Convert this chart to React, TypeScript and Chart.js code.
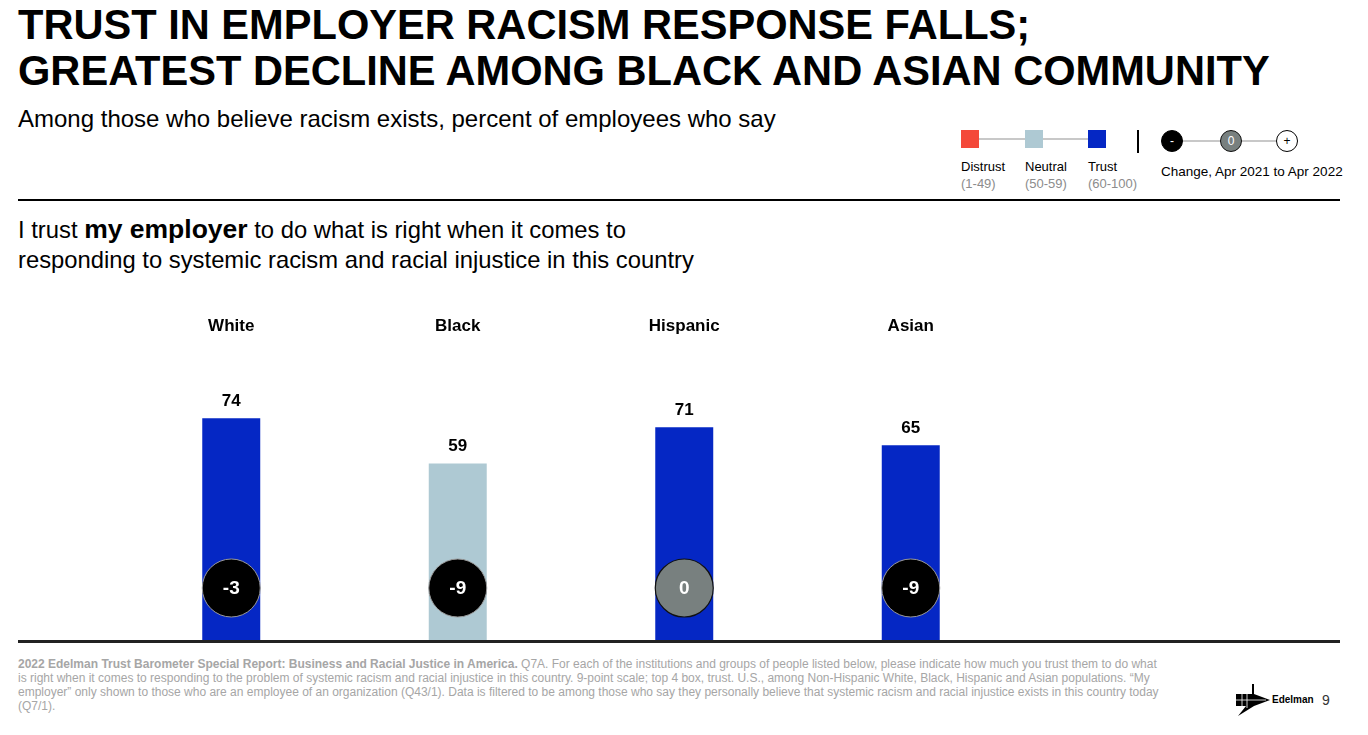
import React, { useEffect, useRef } from "react";
import { Chart, registerables } from "chart.js";

Chart.register(...registerables);

const categories = ["White", "Black", "Hispanic", "Asian"];
const trustValues = [74, 59, 71, 65];
const changeValues = [-3, -9, 0, -9];

const TITLE_LINES = [
  "TRUST IN EMPLOYER RACISM RESPONSE FALLS;",
  "GREATEST DECLINE AMONG BLACK AND ASIAN COMMUNITY",
];
const FOOT_LINES = [
  ["2022 Edelman Trust Barometer Special Report: Business and Racial Justice in America.", " Q7A. For each of the institutions and groups of people listed below, please indicate how much you trust them to do what"],
  ["", "is right when it comes to responding to the problem of systemic racism and racial injustice in this country. 9-point scale; top 4 box, trust. U.S., among Non-Hispanic White, Black, Hispanic and Asian populations. \u201cMy"],
  ["", "employer\u201d only shown to those who are an employee of an organization (Q43/1). Data is filtered to be among those who say they personally believe that systemic racism and racial injustice exists in this country today"],
  ["", "(Q7/1)."],
];

const RED = "#F4493A";
const NEUTRAL = "#AEC9D3";
const BLUE = "#0527C4";
const ZERO_GRAY = "#78807F";
const FONT = "'Liberation Sans', Arial, sans-serif";

function colorFor(v: number) {
  if (v < 50) return RED;
  if (v < 60) return NEUTRAL;
  return BLUE;
}

const overlayPlugin = {
  id: "overlay",
  afterDatasetsDraw(chart: any) {
    const ctx = chart.ctx;
    const meta = chart.getDatasetMeta(0);
    const area = chart.chartArea;
    ctx.save();
    meta.data.forEach((bar: any, i: number) => {
      const x = bar.x;
      ctx.fillStyle = "#000";
      ctx.font = `bold 17px ${FONT}`;
      ctx.textAlign = "center";
      ctx.textBaseline = "middle";
      ctx.fillText(categories[i], x, area.top - 14);
      ctx.fillText(String(trustValues[i]), x, bar.y - 17);
      const cy = area.bottom - 53;
      const ch = changeValues[i];
      ctx.beginPath();
      ctx.arc(x, cy, 29, 0, Math.PI * 2);
      if (ch === 0) {
        ctx.fillStyle = ZERO_GRAY;
        ctx.fill();
        ctx.lineWidth = 1.2;
        ctx.strokeStyle = "#111";
        ctx.stroke();
      } else {
        ctx.fillStyle = ch < 0 ? "#000" : "#fff";
        ctx.fill();
        ctx.lineWidth = 1;
        ctx.strokeStyle = "#999";
        ctx.stroke();
      }
      ctx.fillStyle = ch > 0 ? "#000" : "#fff";
      ctx.font = `bold 19px ${FONT}`;
      ctx.fillText(ch > 0 ? `+${ch}` : String(ch), x, cy + 1);
    });
    ctx.restore();
  },
};

function BarChart() {
  const ref = useRef<HTMLCanvasElement | null>(null);
  useEffect(() => {
    if (!ref.current) return;
    const chart = new Chart(ref.current, {
      type: "bar",
      data: {
        labels: categories,
        datasets: [
          {
            data: trustValues,
            backgroundColor: trustValues.map(colorFor),
            borderWidth: 0,
            barPercentage: 0.256,
            categoryPercentage: 1,
          },
        ],
      },
      options: {
        animation: false,
        responsive: false,
        maintainAspectRatio: false,
        devicePixelRatio: 1,
        layout: { padding: { left: 118, right: 344, top: 50, bottom: 9 } },
        plugins: { legend: { display: false }, tooltip: { enabled: false } },
        scales: {
          x: { display: false },
          y: { display: false, min: 0, max: 100 },
        },
      },
      plugins: [overlayPlugin],
    });
    return () => chart.destroy();
  }, []);
  return (
    <canvas
      ref={ref}
      width={1368}
      height={360}
      style={{ position: "absolute", left: 0, top: 290, width: 1368, height: 360 }}
    />
  );
}

function LegendCircle({ left, fill, border, text, color }: any) {
  return (
    <div
      style={{
        position: "absolute",
        left: left - 11,
        top: 130,
        width: 20,
        height: 20,
        borderRadius: "50%",
        background: fill,
        border: `1px solid ${border}`,
        color,
        fontSize: 12,
        lineHeight: "20px",
        textAlign: "center",
        fontWeight: "normal",
      }}
    >
      {text}
    </div>
  );
}

export default function App() {
  const abs = (s: any) => ({ position: "absolute", ...s });
  return (
    <div style={{ position: "absolute", left: 0, top: 0, width: 1368, height: 735, background: "#fff", fontFamily: FONT, overflow: "hidden" }}>
      {TITLE_LINES.map((t, i) => (
        <div key={i} style={abs({ left: 18, top: 2 + i * 46, fontSize: 41.6, lineHeight: "46px", fontWeight: "bold", whiteSpace: "nowrap", color: "#000" })}>
          {t}
        </div>
      ))}
      <div style={abs({ left: 18, top: 105, fontSize: 24, lineHeight: "28px", whiteSpace: "nowrap" })}>
        Among those who believe racism exists, percent of employees who say
      </div>

      {/* Legend */}
      <div style={abs({ left: 970, top: 138, width: 127, height: 2, background: "#c8c8c8" })} />
      <div style={abs({ left: 961, top: 130, width: 18, height: 18, background: RED })} />
      <div style={abs({ left: 1025, top: 130, width: 18, height: 18, background: NEUTRAL })} />
      <div style={abs({ left: 1088, top: 130, width: 18, height: 18, background: BLUE })} />
      {[
        ["Distrust", "(1-49)", 961],
        ["Neutral", "(50-59)", 1025],
        ["Trust", "(60-100)", 1088],
      ].map(([a, b, l]: any) => (
        <div key={a} style={abs({ left: l, top: 158, fontSize: 13, lineHeight: "17px", whiteSpace: "nowrap" })}>
          <div style={{ color: "#000" }}>{a}</div>
          <div style={{ color: "#8c8c8c" }}>{b}</div>
        </div>
      ))}
      <div style={abs({ left: 1137, top: 130, width: 1.5, height: 23, background: "#000" })} />
      <div style={abs({ left: 1172, top: 140, width: 115, height: 1.5, background: "#c8c8c8" })} />
      <LegendCircle left={1172} fill="#000" border="#000" text="-" color="#fff" />
      <LegendCircle left={1231} fill={ZERO_GRAY} border="#111" text="0" color="#fff" />
      <LegendCircle left={1287} fill="#fff" border="#000" text="+" color="#000" />
      <div style={abs({ left: 1161, top: 163, fontSize: 13.5, lineHeight: "17px", whiteSpace: "nowrap" })}>
        Change, Apr 2021 to Apr 2022
      </div>

      <div style={abs({ left: 18, top: 199, width: 1322, height: 2, background: "#000" })} />

      <div style={abs({ left: 18, top: 214, fontSize: 23.8, lineHeight: "30px", whiteSpace: "nowrap" })}>
        <div>
          I trust <b style={{ fontSize: 26.5 }}>my employer</b> to do what is right when it comes to
        </div>
        <div>responding to systemic racism and racial injustice in this country</div>
      </div>

      <BarChart />

      <div style={abs({ left: 18, top: 640, width: 1322, height: 3, background: "#222" })} />

      <div style={abs({ left: 18, top: 657, fontSize: 12, lineHeight: "14px", color: "#a6a6a6", whiteSpace: "nowrap" })}>
        {FOOT_LINES.map(([b, r], i) => (
          <div key={i}>
            {b ? <b>{b}</b> : null}
            {r}
          </div>
        ))}
      </div>

      {/* Logo */}
      <svg style={abs({ left: 1236, top: 684 })} width={36} height={32} viewBox="0 0 36 32">
        <polygon points="16,0 18,0 18,10 34,16 18,22 18,22 2,32 10,22 0,22 0,10 16,10" fill="#000" />
        <line x1="6" y1="10" x2="6" y2="26" stroke="#fff" strokeWidth="0.8" />
        <line x1="11" y1="10" x2="11" y2="24" stroke="#fff" strokeWidth="0.8" />
        <line x1="0" y1="16" x2="30" y2="16" stroke="#fff" strokeWidth="0.8" />
      </svg>
      <div style={abs({ left: 1272, top: 693, fontSize: 10, fontWeight: "bold", lineHeight: "14px" })}>Edelman</div>
      <div style={abs({ left: 1322, top: 691, fontSize: 14, lineHeight: "18px", color: "#333" })}>9</div>
    </div>
  );
}
